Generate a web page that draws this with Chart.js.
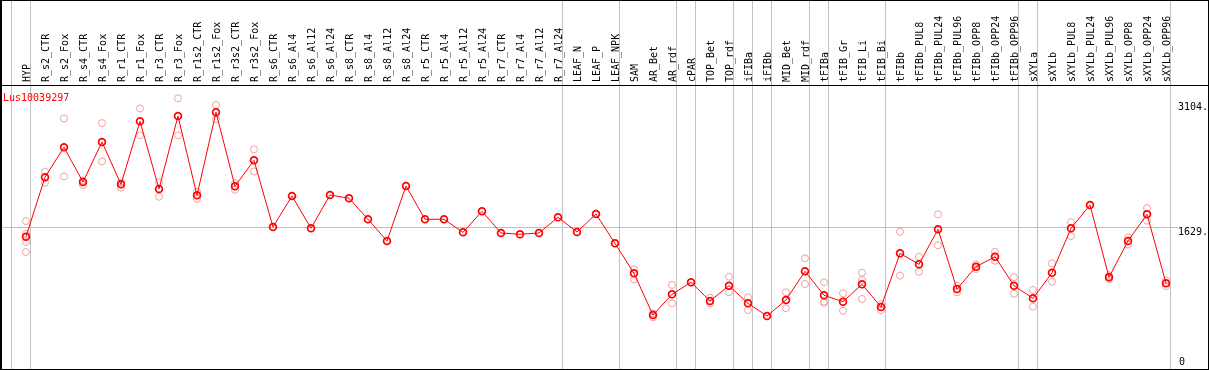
<!DOCTYPE html>
<html>
<head>
<meta charset="utf-8">
<script src="https://cdn.jsdelivr.net/npm/chart.js@4"></script>
<style>
  body { margin: 0; background: #fff; }
  #wrap { position: relative; width: 1209px; height: 370px; }
  #frame { position: absolute; left: 0; top: 0; width: 1209px; height: 370px; box-sizing: border-box;
           border: 1px solid #000; border-left-width: 2px; pointer-events: none; }
  #gene { position: absolute; left: 3px; top: 93px; font: 10px 'DejaVu Sans Mono', monospace;
          line-height: 10px; color: #f00; }
</style>
</head>
<body>
<div id="wrap">
  <canvas id="chart" width="1209" height="370"></canvas>
  <div id="gene">Lus10039297</div>
  <div id="frame"></div>
</div>
<script>
// sample names, left to right
const categories = ['HYP', 'R_s2_CTR', 'R_s2_Fox', 'R_s4_CTR', 'R_s4_Fox', 'R_r1_CTR', 'R_r1_Fox',
  'R_r3_CTR', 'R_r3_Fox', 'R_r1s2_CTR', 'R_r1s2_Fox', 'R_r3s2_CTR', 'R_r3s2_Fox', 'R_s6_CTR',
  'R_s6_Al4', 'R_s6_Al12', 'R_s6_Al24', 'R_s8_CTR', 'R_s8_Al4', 'R_s8_Al12', 'R_s8_Al24',
  'R_r5_CTR', 'R_r5_Al4', 'R_r5_Al12', 'R_r5_Al24', 'R_r7_CTR', 'R_r7_Al4', 'R_r7_Al12',
  'R_r7_Al24', 'LEAF_N', 'LEAF_P', 'LEAF_NPK', 'SAM', 'AR_Bet', 'AR_rdf', 'cPAR', 'TOP_Bet',
  'TOP_rdf', 'iFIBa', 'iFIBb', 'MID_Bet', 'MID_rdf', 'tFIBa', 'tFIB_Gr', 'tFIB_Li', 'tFIB_Bi',
  'tFIBb', 'tFIBb_PUL8', 'tFIBb_PUL24', 'tFIBb_PUL96', 'tFIBb_OPP8', 'tFIBb_OPP24', 'tFIBb_OPP96',
  'sXYLa', 'sXYLb', 'sXYLb_PUL8', 'sXYLb_PUL24', 'sXYLb_PUL96', 'sXYLb_OPP8', 'sXYLb_OPP24',
  'sXYLb_OPP96'];

// mean expression per sample
const means = [1526, 2228, 2582, 2172, 2644, 2145, 2889, 2090, 2951, 2015, 2995, 2121, 2428,
  1641, 2007, 1626, 2019, 1980, 1732, 1476, 2125, 1732, 1732, 1578, 1826, 1570, 1555, 1570,
  1755, 1582, 1794, 1448, 1094, 602, 846, 988, 767, 948, 740, 590, 779, 1118, 835, 759, 964,
  696, 1330, 1200, 1614, 909, 1172, 1290, 948, 799, 1101, 1626, 1901, 1047, 1476, 1791, 976];

// single replicate values per sample (same order as categories)
const replicates = [
  [1711, 1558, 1463, 1345], [2293, 2163], [2922, 2238], [2187, 2136], [2867, 2415],
  [2168, 2104], [3040, 2722], [2168, 1998], [3159, 2722], [2057, 1971], [3080, 2911],
  [2156, 2080], [2557, 2297],
  // R_s6_CTR .. R_s8_Al24
  [], [], [], [], [], [], [], [],
  // R_r5_CTR .. R_r7_Al24
  [], [], [], [], [], [], [], [],
  // LEAF_N, LEAF_P, LEAF_NPK
  [], [], [],
  [1141, 1023], [622, 575], [956, 740], [], [806, 740], [1054, 870], [811, 661], [],
  [870, 681], [1271, 968], [988, 759, 747], [858, 652], [1101, 1015, 791], [730, 661],
  [1585, 1066], [1290, 1113], [1790, 1424], [948, 870], [1200, 1145], [1349, 1243],
  [1047, 853], [897, 700], [1212, 995], [1699, 1534], [], [1070, 1025], [1519, 1433],
  [1864, 1715], [1008, 944]];

// index of the last sample in each group (-1 = before the first)
const groupEnds = [-1, 0, 28, 31, 34, 35, 37, 38, 39, 41, 42, 45, 52, 53, 60];

const yTicks = [1629, 3104];
const yZeroTick = [0];

Chart.defaults.font.family = "'DejaVu Sans Mono', monospace";
Chart.defaults.font.size = 10;
Chart.defaults.color = '#000';

const isSep = v => !Number.isInteger(v);
const yMin = -35.4;
const yMax = 3317;

// shared settings for the two right-hand value axes
const valueAxis = (ticks, offset, pad) => ({
  position: 'right',
  min: yMin,
  max: yMax,
  afterBuildTicks: s => { s.ticks = ticks.map(v => ({ value: v })); },
  afterFit: s => {
    s.width = 0;
    s.paddingTop = 0;
    s.paddingBottom = 0;
  },
  grid: {
    color: c => (c.tick && c.tick.value === yTicks[0]) ? '#c0c0c0' : 'rgba(0,0,0,0)',
    drawTicks: false
  },
  border: { display: false },
  ticks: {
    mirror: true,
    crossAlign: 'far',
    padding: pad,
    labelOffset: offset,
    showLabelBackdrop: true,
    backdropColor: '#fff',
    backdropPadding: 0,
    callback: v => v === 0 ? '0' : v + '.'
  }
});

new Chart(document.getElementById('chart').getContext('2d'), {
  type: 'line',
  data: {
    datasets: [{
      label: 'mean',
      data: means.map((v, i) => ({ x: i, y: v })),
      borderColor: '#ff0000',
      borderWidth: 1,
      pointRadius: 3.4,
      pointBorderWidth: 1.7,
      pointBorderColor: '#ff0000',
      pointBackgroundColor: 'rgba(0,0,0,0)',
      order: 0
    }, {
      label: 'replicates',
      data: replicates.flatMap((r, i) => r.map(v => ({ x: i, y: v }))),
      showLine: false,
      pointRadius: 3.5,
      pointBorderWidth: 1,
      pointBorderColor: '#f0a0a0',
      pointBackgroundColor: 'rgba(0,0,0,0)',
      order: 1
    }]
  },
  options: {
    responsive: false,
    animation: false,
    layout: { padding: { bottom: 1 }, autoPadding: false },
    plugins: { legend: { display: false }, tooltip: { enabled: false } },
    scales: {
      x: {
        type: 'linear',
        position: 'top',
        min: -1.368,
        max: 62.263,
        afterBuildTicks: s => {
          s.ticks = categories.map((c, i) => ({ value: i }))
            .concat(groupEnds.map(g => ({ value: g + 0.22 })))
            .sort((a, b) => a.value - b.value);
        },
        afterFit: s => {
          s.height = 85;
          s.paddingLeft = 0;
          s.paddingRight = 0;
        },
        grid: {
          color: c => (c.tick && isSep(c.tick.value)) ? '#c0c0c0' : 'rgba(0,0,0,0)',
          tickLength: 85
        },
        border: { color: '#000' },
        ticks: {
          autoSkip: false,
          minRotation: 90,
          maxRotation: 90,
          padding: -82,
          labelOffset: 13,
          callback: v => isSep(v) ? '' : categories[v]
        }
      },
      y: valueAxis(yTicks, 4, -1),
      yZero: valueAxis(yZeroTick, -4, -24)
    }
  }
});
</script>
</body>
</html>
